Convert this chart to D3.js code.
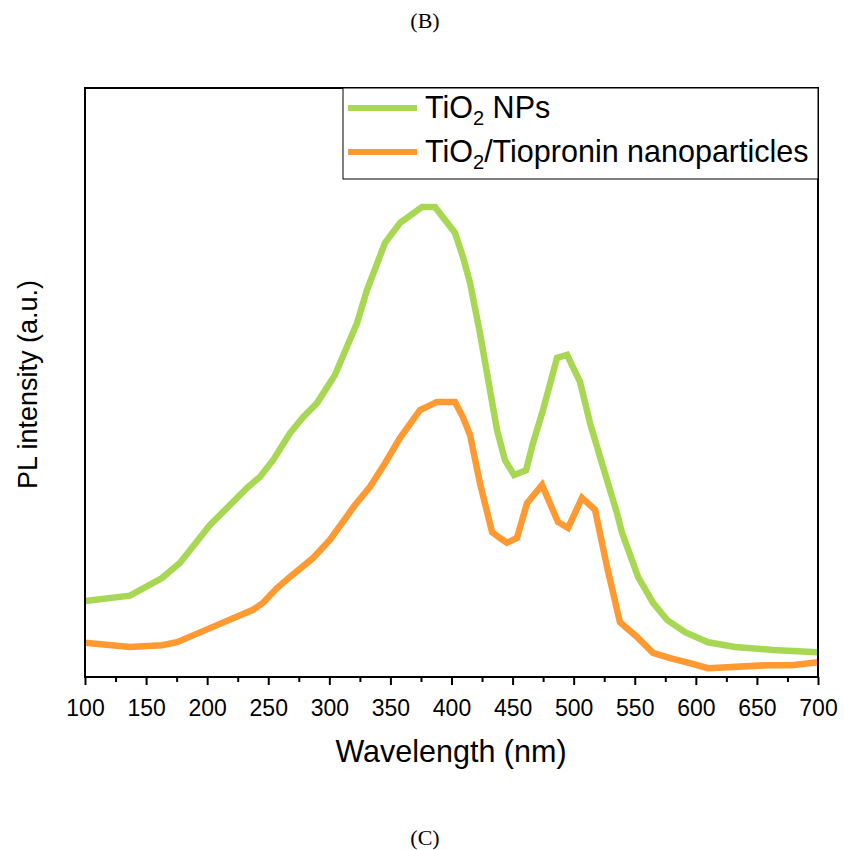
<!DOCTYPE html>
<html>
<head>
<meta charset="utf-8">
<script src="https://cdn.jsdelivr.net/npm/d3@7"></script>
<style>
  html, body { margin: 0; padding: 0; background: #fff; }
  svg { display: block; }
</style>
</head>
<body>
<svg id="chart" width="844" height="850"></svg>
<script>
// ---- data ----
const seriesNames = ["TiO2 NPs", "TiO2/Tiopronin nanoparticles"];
const seriesColors = ["#a8d853", "#ff9a33"];

const tio2Wavelength = [100, 136.8, 163, 177.8, 202.3, 232.6, 243.3, 253.9, 267.8, 278.5, 289.9, 304.7, 322.7, 330.8, 345.6, 357.9, 375.9, 386.5, 402.9, 409.4, 415.2, 423.3, 431.5, 437.3, 443.8, 451.2, 461, 466.7, 474.9, 486.4, 494.6, 505.2, 513.4, 524, 535.5, 539.6, 552.7, 565, 576.4, 591.2, 610, 632.1, 663.2, 700];
const tio2Intensity = [12.9, 13.8, 16.8, 19.4, 25.8, 32.1, 34.0, 36.8, 41.4, 44.1, 46.5, 51.3, 60.1, 65.7, 73.7, 77.1, 79.8, 79.8, 75.4, 71.3, 66.9, 58.4, 48.7, 41.9, 36.8, 34.3, 35.1, 39.7, 45.3, 54.2, 54.7, 50.1, 43.1, 35.7, 27.8, 24.5, 17.0, 12.6, 9.7, 7.6, 5.9, 5.1, 4.6, 4.2];

const tiopWavelength = [100, 136.8, 163, 175.3, 202.3, 237.5, 245.7, 257.2, 267.8, 286.6, 300.6, 321, 333.3, 345.6, 357.9, 374.2, 388.1, 402.9, 409.4, 415.2, 423.3, 433.2, 439.7, 445.4, 453.6, 461.8, 474.1, 487.2, 495.4, 506.8, 517.5, 527.3, 537.9, 551.9, 564.9, 578.9, 592.8, 610, 658.3, 678.7, 700];
const tiopIntensity = [5.8, 5.1, 5.4, 5.9, 8.3, 11.4, 12.6, 15.1, 17.0, 20.2, 23.3, 29.2, 32.3, 36.3, 40.6, 45.3, 46.7, 46.7, 44.1, 41.1, 32.9, 24.6, 23.6, 22.8, 23.6, 29.5, 32.6, 26.3, 25.3, 30.4, 28.4, 18.7, 9.3, 6.8, 4.1, 3.2, 2.5, 1.5, 2.0, 2.0, 2.5];

const xMajorTicks = [100, 150, 200, 250, 300, 350, 400, 450, 500, 550, 600, 650, 700];
const xMinorTicks = [125, 175, 225, 275, 325, 375, 425, 475, 525, 575, 625, 675];
const xTickLabels = ["100", "150", "200", "250", "300", "350", "400", "450", "500", "550", "600", "650", "700"];

const xTitle = "Wavelength (nm)";
const yTitle = "PL intensity (a.u.)";
const topCaption = "(B)";
const bottomCaption = "(C)";

// ---- layout ----
const svg = d3.select("#chart");
const pLeft = 85, pRight = 818, pTop = 88, pBottom = 677;

const x = d3.scaleLinear().domain([100, 700]).range([pLeft, pRight]);
const y = d3.scaleLinear().domain([0, 100]).range([pBottom, pTop]);

const sans = "Arial, 'Liberation Sans', Helvetica, sans-serif";
const serif = "'Times New Roman', 'Liberation Serif', Times, serif";

// captions
svg.append("text").attr("x", 425).attr("y", 28).attr("text-anchor", "middle")
  .attr("font-family", serif).attr("font-size", 22).text(topCaption);
svg.append("text").attr("x", 425).attr("y", 845).attr("text-anchor", "middle")
  .attr("font-family", serif).attr("font-size", 22).text(bottomCaption);

// clip
svg.append("clipPath").attr("id", "plotclip").append("rect")
  .attr("x", pLeft).attr("y", pTop).attr("width", pRight - pLeft).attr("height", pBottom - pTop);

// lines
const line = d3.line().x(d => x(d[0])).y(d => y(d[1]));
const series = [
  d3.zip(tio2Wavelength, tio2Intensity),
  d3.zip(tiopWavelength, tiopIntensity)
];
const g = svg.append("g").attr("clip-path", "url(#plotclip)");
series.forEach((s, i) => {
  g.append("path").datum(s).attr("d", line)
    .attr("fill", "none").attr("stroke", seriesColors[i])
    .attr("stroke-width", 6.5).attr("stroke-linejoin", "miter").attr("stroke-miterlimit", 3);
});

// frame
svg.append("rect").attr("x", pLeft).attr("y", pTop)
  .attr("width", pRight - pLeft).attr("height", pBottom - pTop)
  .attr("fill", "none").attr("stroke", "#000").attr("stroke-width", 2);

// x axis
const xAxis = d3.axisBottom(x).tickValues(xMajorTicks).tickSize(8).tickPadding(15)
  .tickFormat((d, i) => xTickLabels[i]);
const ax = svg.append("g").attr("transform", `translate(0,${pBottom})`).call(xAxis);
ax.select(".domain").remove();
ax.selectAll(".tick line").attr("stroke", "#000").attr("stroke-width", 2);
ax.selectAll(".tick text").attr("font-family", sans).attr("font-size", 23).attr("fill", "#000");

const axm = svg.append("g").attr("transform", `translate(0,${pBottom})`)
  .call(d3.axisBottom(x).tickValues(xMinorTicks).tickSize(5).tickFormat(""));
axm.select(".domain").remove();
axm.selectAll(".tick line").attr("stroke", "#000").attr("stroke-width", 2);

// axis titles
svg.append("text").attr("x", 451).attr("y", 762).attr("text-anchor", "middle")
  .attr("font-family", sans).attr("font-size", 30.5).attr("fill", "#000").text(xTitle);
svg.append("text").attr("transform", `translate(37,${(pTop + pBottom) / 2 + 2}) rotate(-90)`)
  .attr("text-anchor", "middle")
  .attr("font-family", sans).attr("font-size", 27).attr("fill", "#000").text(yTitle);

// legend
const lg = svg.append("g");
lg.append("rect").attr("x", 343).attr("y", pTop).attr("width", pRight - 343).attr("height", 179 - pTop)
  .attr("fill", "#fff").attr("stroke", "#000").attr("stroke-width", 1);
const legendRows = [
  { base: "TiO", sub: "2", rest: " NPs", ly: 108, ty: 118 },
  { base: "TiO", sub: "2", rest: "/Tiopronin nanoparticles", ly: 152, ty: 162 }
];
legendRows.forEach((r, i) => {
  lg.append("line").attr("x1", 348).attr("x2", 417).attr("y1", r.ly).attr("y2", r.ly)
    .attr("stroke", seriesColors[i]).attr("stroke-width", 6);
  const t = lg.append("text").attr("x", 425).attr("y", r.ty)
    .attr("font-family", sans).attr("font-size", 30.5).attr("fill", "#000");
  t.append("tspan").text(r.base);
  t.append("tspan").attr("font-size", 20).attr("dy", 7).text(r.sub);
  t.append("tspan").attr("dy", -7).text(r.rest);
});
</script>
</body>
</html>
